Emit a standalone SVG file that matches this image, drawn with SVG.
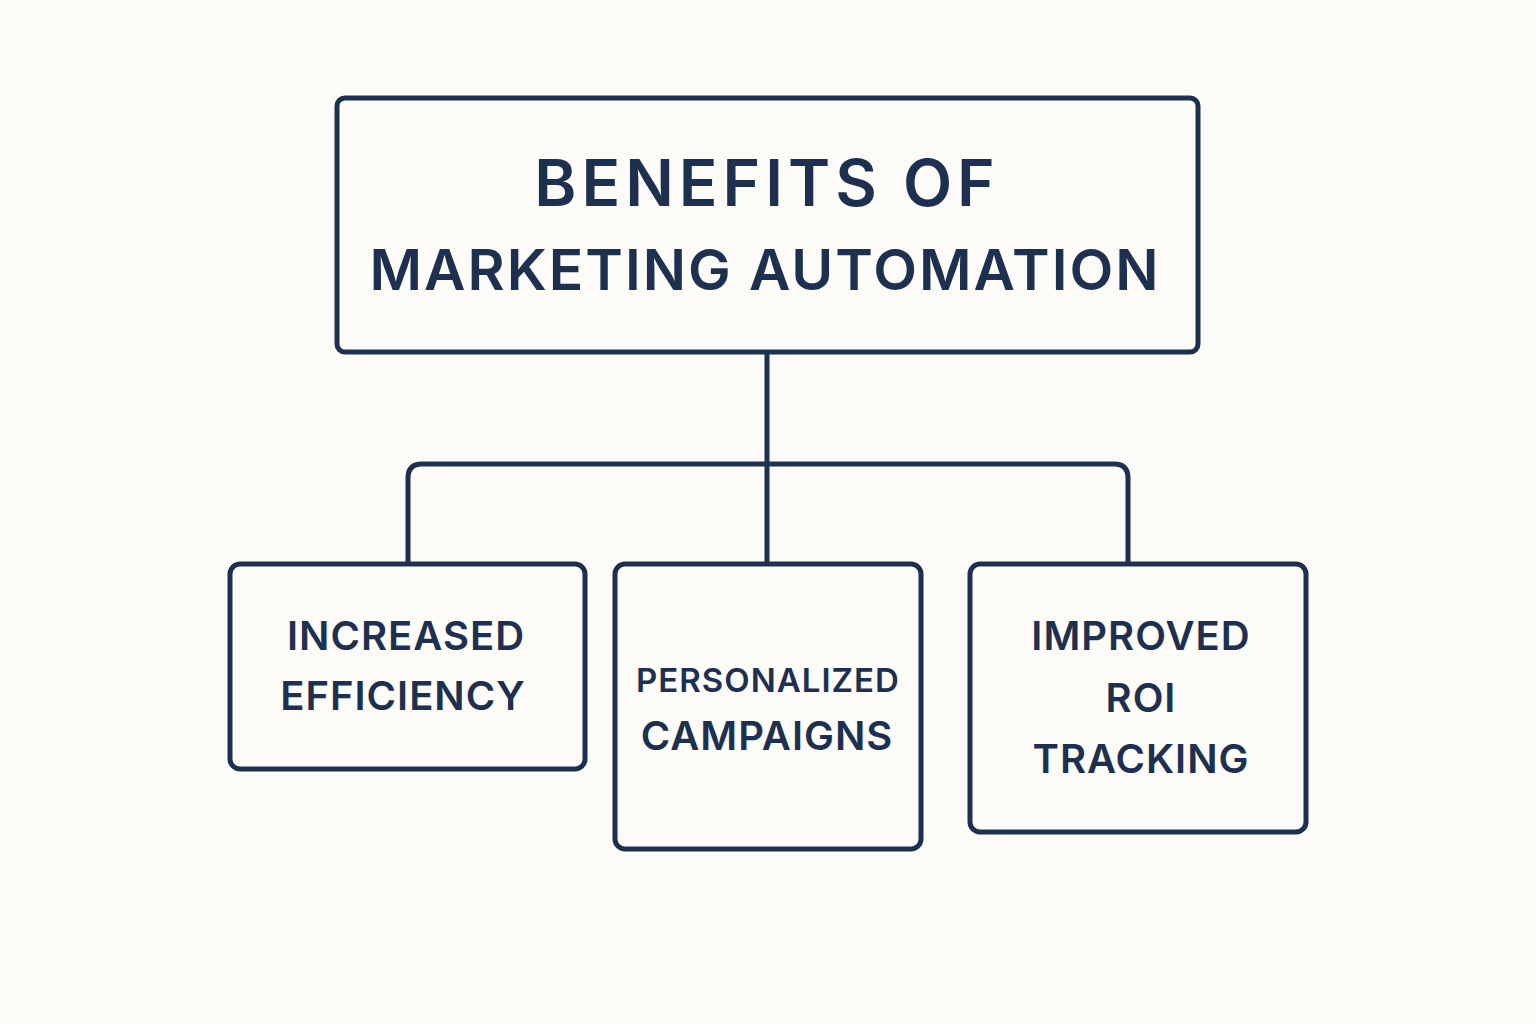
<svg xmlns="http://www.w3.org/2000/svg" width="1536" height="1024" viewBox="0 0 1536 1024">
<style>
.box{fill:none;stroke:#1e3050;stroke-width:5}
.t{font-family:"Inter","Liberation Sans",sans-serif;font-weight:600;fill:#1e3050;text-anchor:middle}
.sm{font-size:40px;letter-spacing:1px}
</style>
<rect width="1536" height="1024" fill="#fdfbf7"/>
<g id="connectors" fill="none" stroke="#1e3050" stroke-width="5">
<path d="M767 352V563"/>
<path d="M408 563V478q0-14 14-14H1114q14 0 14 14V563"/>
</g>
<g id="root"><rect class="box" x="337" y="98" width="861" height="254" rx="8"/>
<text class="t" font-size="64" letter-spacing="5" x="767" y="206">BENEFITS OF</text>
<text class="t" font-size="57" letter-spacing="2" x="765" y="290">MARKETING AUTOMATION</text></g>
<g id="n1"><rect class="box" x="230" y="564" width="355" height="205" rx="10"/>
<text class="t sm" x="406" y="650">INCREASED</text>
<text class="t sm" x="403" y="710">EFFICIENCY</text></g>
<g id="n2"><rect class="box" x="615" y="564" width="306" height="285" rx="10"/>
<text class="t" font-size="33" x="768" y="692" letter-spacing="1">PERSONALIZED</text>
<text class="t sm" x="767" y="750">CAMPAIGNS</text></g>
<g id="n3"><rect class="box" x="970" y="564" width="336" height="268" rx="10"/>
<text class="t sm" x="1141" y="650">IMPROVED</text>
<text class="t sm" x="1141" y="712">ROI</text>
<text class="t sm" x="1141" y="773">TRACKING</text></g>
</svg>
